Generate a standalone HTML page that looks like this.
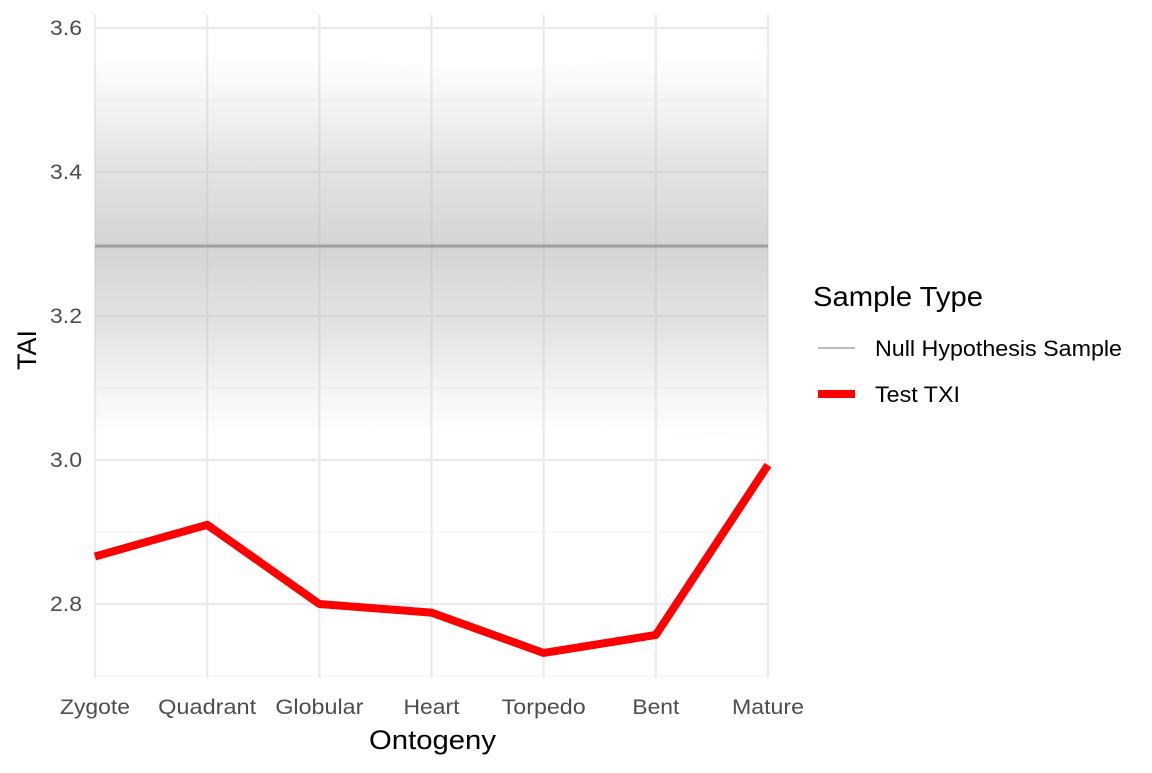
<!DOCTYPE html>
<html><head><meta charset="utf-8"><style>
body{margin:0;background:#fff}
text{font-family:"Liberation Sans",Arial,sans-serif}
</style></head><body>
<svg id="chart" width="1152" height="768" xmlns="http://www.w3.org/2000/svg">
<defs>
<linearGradient id="band" x1="0" y1="0" x2="0" y2="1">
<stop offset="0" stop-color="#c0c0c0" stop-opacity="0"/>
<stop offset="0.1" stop-color="#c0c0c0" stop-opacity="0.12"/>
<stop offset="0.28" stop-color="#bcbcbc" stop-opacity="0.4"/>
<stop offset="0.5" stop-color="#b8b8b8" stop-opacity="0.6"/>
<stop offset="0.72" stop-color="#bcbcbc" stop-opacity="0.4"/>
<stop offset="0.9" stop-color="#c0c0c0" stop-opacity="0.12"/>
<stop offset="1" stop-color="#c0c0c0" stop-opacity="0"/>
</linearGradient>
</defs>
<g id="grid"></g>
<g id="null"></g>
<g id="series"></g>
<g id="axes"></g>
<g>
<text x="813" y="306" font-size="28" textLength="170" lengthAdjust="spacingAndGlyphs" fill="#000">Sample Type</text>
<line x1="818" y1="348" x2="855" y2="348" stroke="#bbb" stroke-width="2"/>
<text x="875" y="356" font-size="22.5" textLength="247" lengthAdjust="spacingAndGlyphs" fill="#000">Null Hypothesis Sample</text>
<line x1="818" y1="394" x2="855" y2="394" stroke="#f00" stroke-width="8"/>
<text x="875" y="402" font-size="22.5" textLength="85" lengthAdjust="spacingAndGlyphs" fill="#000">Test TXI</text>
</g>
</svg>
<script>
const categories=["Zygote","Quadrant","Globular","Heart","Torpedo","Bent","Mature"];
const testTXI=[2.866,2.91,2.80,2.788,2.732,2.757,2.993];
const nullMean=[3.297,3.297,3.297,3.297,3.297,3.297,3.297];
const nullSpread=[0.26,0.26,0.26,0.25,0.25,0.26,0.27];
const yTicks=[2.8,3.0,3.2,3.4,3.6];
const yMinor=[2.7,2.9,3.1,3.3,3.5];
const catLabelW=[70,98,88,56,84,47,72];
const NS="http://www.w3.org/2000/svg";
const x0=95,x1=768,yTop=15,yBot=678;
const xs=i=>x0+i*(x1-x0)/(categories.length-1);
const ys=v=>460-(v-3.0)*720;
function mk(t,a,p){const e=document.createElementNS(NS,t);for(const k in a)e.setAttribute(k,a[k]);p.appendChild(e);return e;}
const grid=document.getElementById('grid'),axes=document.getElementById('axes');
yMinor.forEach(v=>{const l=mk('line',{x1:x0,x2:x1,y1:ys(v),y2:ys(v),stroke:'#f3f3f3','stroke-width':1.2},grid);

});
yTicks.forEach(v=>{const l=mk('line',{x1:x0,x2:x1,y1:ys(v),y2:ys(v),stroke:'#ebebeb','stroke-width':2.2},grid);


const t=mk('text',{x:50,y:ys(v)+7,'font-size':21,fill:'#4d4d4d',textLength:32,lengthAdjust:'spacingAndGlyphs'},axes);t.textContent=v.toFixed(1);

});
categories.forEach((c,i)=>{const l=mk('line',{x1:xs(i),x2:xs(i),y1:yTop,y2:yBot,stroke:'#ebebeb','stroke-width':2.2},grid);


const t=mk('text',{x:xs(i)-catLabelW[i]/2,y:714,'font-size':21.5,fill:'#4d4d4d',textLength:catLabelW[i],lengthAdjust:'spacingAndGlyphs'},axes);t.textContent=c;

});
const nul=document.getElementById('null');
let up='',dn='';
categories.forEach((c,i)=>{up+=(i?'L':'M')+xs(i)+','+ys(nullMean[i]+nullSpread[i]);});
for(let i=categories.length-1;i>=0;i--)dn+='L'+xs(i)+','+ys(nullMean[i]-nullSpread[i]);
const band=mk('path',{d:up+dn+'Z',fill:'url(#band)'},nul);


const ml=mk('polyline',{points:categories.map((c,i)=>xs(i)+','+ys(nullMean[i])).join(' '),fill:'none',stroke:'#a0a0a0','stroke-width':3},nul);


const tl=mk('polyline',{points:testTXI.map((v,i)=>xs(i)+','+ys(v)).join(' '),fill:'none',stroke:'#f00','stroke-width':8,'stroke-linejoin':'round'},document.getElementById('series'));


const xt=mk('text',{x:369,y:749,'font-size':27,fill:'#000',textLength:127,lengthAdjust:'spacingAndGlyphs'},axes);xt.textContent='Ontogeny';


const yt=mk('text',{x:0,y:0,'font-size':27,fill:'#000','text-anchor':'middle',transform:'translate(36,350) rotate(-90)'},axes);yt.textContent='TAI';


</script>
</body></html>
